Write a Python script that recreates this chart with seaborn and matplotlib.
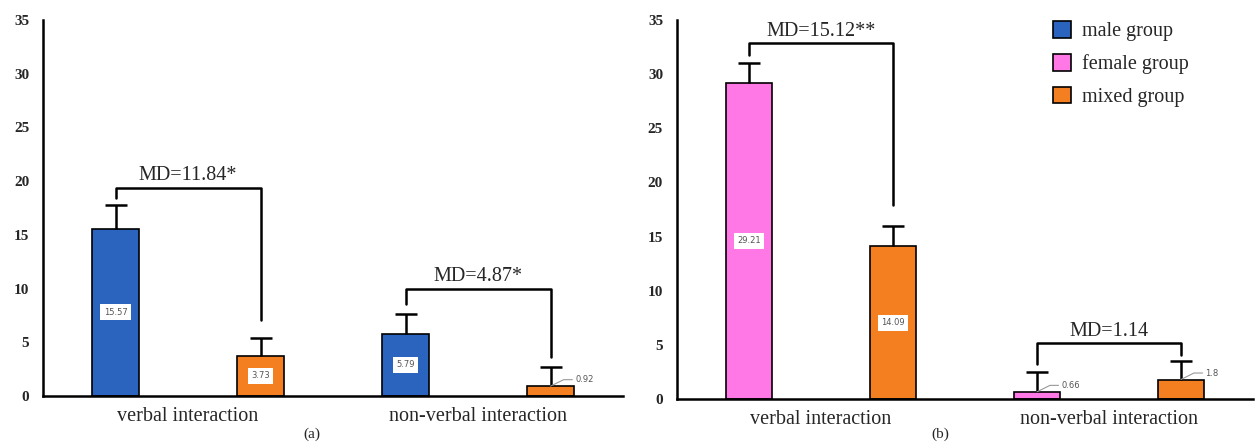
import pandas as pd
import matplotlib.pyplot as plt
import seaborn as sns
from matplotlib.patches import Patch

# Данные
categories = ["verbal interaction", "non-verbal interaction"]

a_male = [15.57, 5.79]
a_mixed = [3.73, 0.92]
a_male_err = [2.2, 1.85]
a_mixed_err = [1.65, 1.8]

b_female = [29.21, 0.66]
b_mixed = [14.09, 1.8]
b_female_err = [1.8, 1.8]
b_mixed_err = [1.85, 1.75]

a_md = ["MD=11.84*", "MD=4.87*"]
b_md = ["MD=15.12**", "MD=1.14"]
# top of bracket, left leg end, right leg end
a_brackets = [(19.4, 18.4, 7.1), (10.0, 8.6, 3.6)]
b_brackets = [(32.9, 31.8, 17.9), (5.2, 3.2, 4.1)]

colors = {
    "male group": "#2a64bf",
    "female group": "#ff78e6",
    "mixed group": "#f47f20",
}

sns.set_style("white")
plt.rcParams["font.family"] = ["Liberation Serif", "DejaVu Serif"]

fig = plt.figure(figsize=(12.59, 4.43), dpi=100)
ax_a = fig.add_axes([0.0342, 0.1061, 0.4607, 0.8488])
ax_b = fig.add_axes([0.5377, 0.0993, 0.4575, 0.8555])


def draw_panel(ax, g1, v1, e1, v2, e2, md, brackets):
    df = pd.DataFrame({
        "category": categories * 2,
        "value": v1 + v2,
        "group": [g1] * 2 + ["mixed group"] * 2,
    })
    sns.barplot(
        data=df, x="category", y="value", hue="group",
        hue_order=[g1, "mixed group"], palette=colors, saturation=1,
        order=categories, width=1.0, gap=0.68, errorbar=None,
        edgecolor="black", linewidth=1.2, legend=False, ax=ax
    )

    centers = []
    for cont, errs in zip(ax.containers, [e1, e2]):
        xs = [p.get_x() + p.get_width() / 2 for p in cont]
        hs = [p.get_height() for p in cont]
        centers.append(xs)
        eb = ax.errorbar(xs, hs, yerr=[[0] * len(errs), errs], fmt="none",
                         ecolor="black", elinewidth=1.8, capsize=8,
                         capthick=1.8, zorder=3)
        # убрать нижние засечки
        eb[1][0].set_visible(False)
        for x, h in zip(xs, hs):
            lab = f"{h:g}"
            if h > 3:
                ax.text(x, h / 2, lab, ha="center", va="center",
                        fontsize=6, color="#555555",
                        family="DejaVu Sans",
                        bbox=dict(facecolor="white", edgecolor="none",
                                  pad=2.5), zorder=4)
            else:
                ax.plot([x, x + 0.045, x + 0.075], [h, h + 0.6, h + 0.6],
                        color="#999999", lw=0.8, zorder=4)
                ax.text(x + 0.085, h + 0.6, lab, ha="left", va="center",
                        fontsize=6, color="#555555", family="DejaVu Sans")

    # скобки MD
    for i, (top, left_end, right_end) in enumerate(brackets):
        xl = centers[0][i]
        xr = centers[1][i]
        ax.plot([xl, xl, xr, xr], [left_end, top, top, right_end],
                color="black", lw=1.8, zorder=3)
        ax.text((xl + xr) / 2, top + 0.2, md[i], ha="center", va="bottom",
                fontsize=14.5)

    ax.set_xlim(-0.5, 1.5)
    ax.set_ylim(0, 35)
    ax.set_yticks(range(0, 36, 5))
    ax.set_xlabel("")
    ax.set_ylabel("")
    ax.tick_params(axis="y", length=0, pad=10, labelsize=11)
    ax.tick_params(axis="x", length=0, pad=8, labelsize=14.5)
    for t in ax.get_yticklabels():
        t.set_fontweight("bold")
    sns.despine(ax=ax)
    for s in ["left", "bottom"]:
        ax.spines[s].set_color("black")
        ax.spines[s].set_linewidth(1.8)


draw_panel(ax_a, "male group", a_male, a_male_err, a_mixed, a_mixed_err,
           a_md, a_brackets)
draw_panel(ax_b, "female group", b_female, b_female_err, b_mixed,
           b_mixed_err, b_md, b_brackets)

# Легенда
handles = [Patch(facecolor=c, edgecolor="black", linewidth=1.2, label=g)
           for g, c in colors.items()]
ax_b.legend(handles=handles, loc="upper left",
            bbox_to_anchor=(0.622, 1.045), frameon=False, fontsize=14.5,
            handlelength=0.9, handleheight=0.9, labelspacing=0.62,
            handletextpad=0.5)

fig.text(312 / 1259, 1 - 434 / 443, "(a)", ha="center", va="center",
         fontsize=11)
fig.text(940 / 1259, 1 - 434 / 443, "(b)", ha="center", va="center",
         fontsize=11)

fig.savefig("out.png", dpi=100)
